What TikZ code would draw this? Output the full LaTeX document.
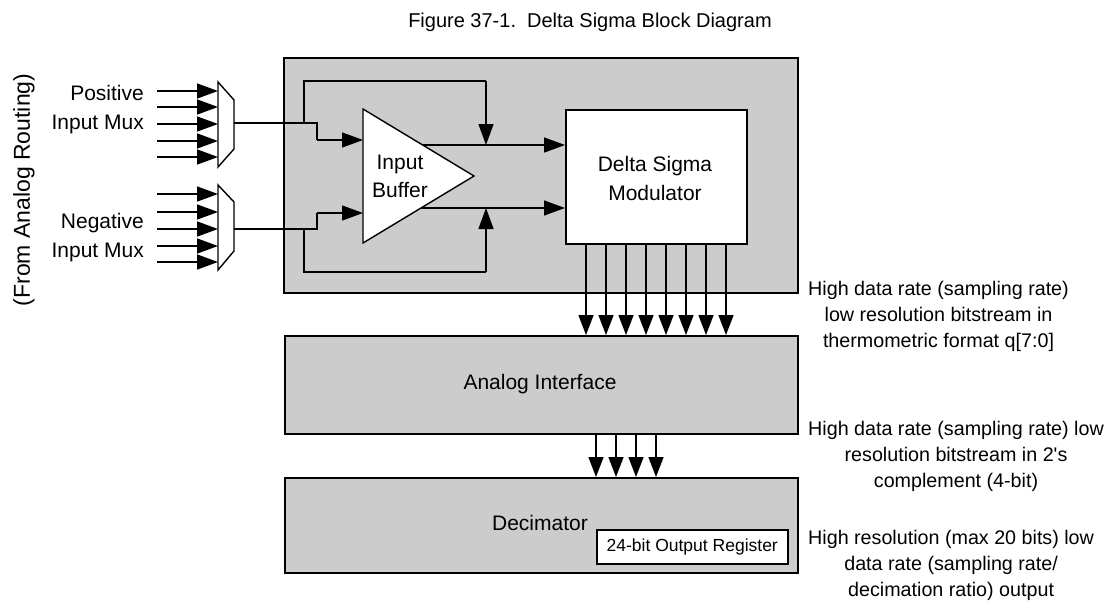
\documentclass[tikz,border=0pt]{standalone}
\usepackage{fontspec}
\setmainfont{Liberation Sans}
\usetikzlibrary{arrows.meta}
\definecolor{boxgray}{RGB}{204,204,204}
\begin{document}
\begin{tikzpicture}[x=1pt,y=-1pt,
  wire/.style={line width=1.4pt},
  arr/.style={wire,-{Triangle[length=21pt,width=15pt]}},
  darr/.style={wire,-{Triangle[length=20pt,width=15pt]}},
  block/.style={draw,line width=1.8pt,fill=boxgray,anchor=north west,inner sep=0pt},
  wblock/.style={draw,line width=1.8pt,fill=white,anchor=north west,inner sep=0pt},
  lbl/.style={font=\fontsize{21}{28}\selectfont,inner sep=0pt,align=center},
  note/.style={font=\fontsize{19.7}{26}\selectfont,inner sep=0pt,align=center,anchor=north west}]
\useasboundingbox (0,0) rectangle (1114,603);

% title
\node[font=\fontsize{20}{24}\selectfont,inner sep=0pt] (title) at (590,22) {Figure 37-1.\ \ Delta Sigma Block Diagram};

% side label
\node[font=\fontsize{23}{28}\selectfont,rotate=90,inner sep=0pt] (side) at (24,190) {(From Analog Routing)};

% blocks
\node[block,minimum width=514pt,minimum height=235pt] (outer) at (283,57) {};
\node[wblock,minimum width=181pt,minimum height=134pt] (mod) at (565,109) {};
\node[lbl] (modtxt) at (655,178) {Delta Sigma\\[1pt]Modulator};
\node[block,minimum width=513pt,minimum height=98pt] (ai) at (284,335) {};
\node[lbl] (aitxt) at (540,384) {Analog Interface};
\node[block,minimum width=513pt,minimum height=95pt] (dec) at (284,477) {};
\node[lbl] (dectxt) at (540,523) {Decimator};
\node[draw,line width=1.5pt,fill=white,anchor=north west,inner sep=0pt,
      minimum width=191pt,minimum height=34pt,
      font=\fontsize{17.5}{21}\selectfont] (reg) at (596,529) {24-bit Output Register};

% input labels
\node[lbl,align=right,anchor=east,font=\fontsize{21}{29}\selectfont] (plbl) at (144,110) {Positive\\Input Mux};
\node[lbl,align=right,anchor=east,font=\fontsize{21}{29}\selectfont] (nlbl) at (144,238) {Negative\\Input Mux};

% input arrows
\foreach \y [count=\i] in {91,107,124,141,157} {
  \coordinate (pin\i) at (157,\y);
  \draw[arr] (pin\i) -- (218,\y);
}
\foreach \y [count=\i] in {194,212,229,246,262} {
  \coordinate (nin\i) at (157,\y);
  \draw[arr] (nin\i) -- (218,\y);
}

% muxes
\draw[wire,fill=white] (218,82) -- (234,100) -- (234,149) -- (218,167) -- cycle;
\draw[wire,fill=white] (218,185) -- (234,202) -- (234,251) -- (218,270) -- cycle;
\coordinate (pmo) at (234,123);
\coordinate (nmo) at (234,229);

% buffer connections
\coordinate (pj) at (304,123);
\coordinate (nj) at (304,229);
\coordinate (bin1) at (363,140);
\coordinate (bin2) at (363,213);
\coordinate (bout1) at (410,145);
\coordinate (bout2) at (410,208);
\draw[wire] (pmo) -- (317,123) -- (317,140);
\draw[arr] (317,140) -- (bin1);
\draw[wire] (nmo) -- (317,229) -- (317,213);
\draw[arr] (317,213) -- (bin2);
\draw[wire] (pj) -- (304,81) -- (486,81);
\draw[arr] (486,81) -- (486,145);
\draw[wire] (nj) -- (304,272) -- (486,272);
\draw[arr] (486,272) -- (486,208);
\draw[arr] (bout1) -- (mod.west |- bout1);
\draw[arr] (bout2) -- (mod.west |- bout2);

% buffer triangle
\draw[wire,fill=white] (363,109) -- (474,176) -- (363,243) -- cycle;
\node[lbl] (buftxt) at (400,176) {Input\\Buffer};

% bitstreams
\foreach \x in {586,606,626,646,666,686,706,726} {
  \draw[darr] (\x,0 |- mod.south) -- (\x,0 |- ai.north);
}
\foreach \x in {596,616,636,656} {
  \draw[darr] (\x,0 |- ai.south) -- (\x,0 |- dec.north);
}

% notes
\node[note] (n1) at (808,281) {High data rate (sampling rate)\\low resolution bitstream in\\thermometric format q[7:0]};
\node[note] (n2) at (808,421) {High data rate (sampling rate) low\\resolution bitstream in 2\textquotesingle s\\complement (4-bit)};
\node[note] (n3) at (808,530) {High resolution (max 20 bits) low\\data rate (sampling rate/\\decimation ratio) output};
\end{tikzpicture}
\end{document}
